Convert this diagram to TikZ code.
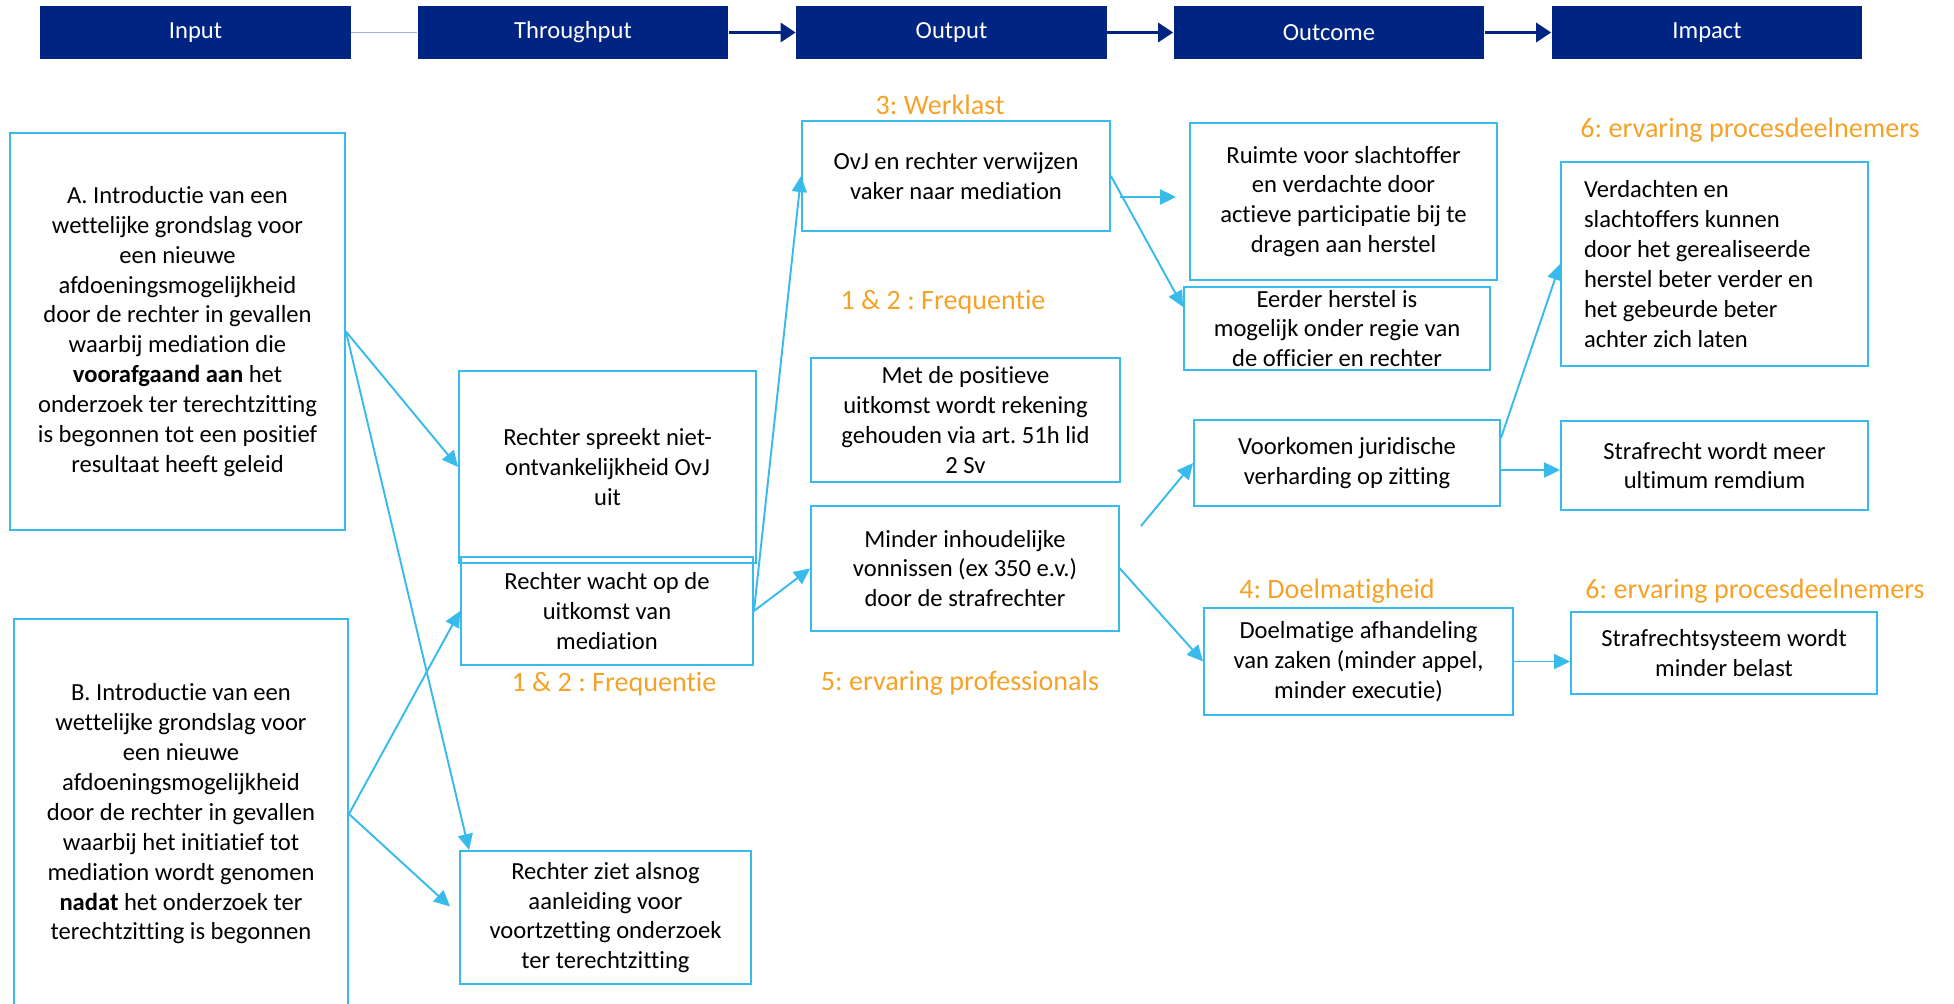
\documentclass[tikz,border=0pt]{standalone}
\usepackage{fontspec}
\setmainfont{Carlito}[Ligatures=NoCommon]
\usetikzlibrary{arrows.meta,calc,positioning}
\definecolor{navy}{RGB}{0,36,130}
\definecolor{skyline}{RGB}{56,187,235}
\definecolor{ambertxt}{RGB}{245,162,40}
\definecolor{paleline}{RGB}{160,180,222}
\frenchspacing

\begin{document}
\begin{tikzpicture}[x=0.02cm, y=-0.02cm,
	every node/.style={font=\fontsize{14}{17}\selectfont},
	head/.style={fill=navy, text=white, minimum width=6.22cm, minimum height=1.06cm, inner sep=0pt},
	box/.style={draw=skyline, line width=1.1pt, align=center, inner sep=0pt},
	lbl/.style={text=ambertxt, font=\fontsize{16}{19}\selectfont},
	link/.style={draw=skyline, line width=1.1pt, -{Triangle[length=0.32cm,width=0.3cm]}},
	flow/.style={draw=navy, line width=1.6pt, -{Triangle[length=0.3cm,width=0.38cm]}}]
		\useasboundingbox (0,0) rectangle (1954,1004);
		% header
		\node[head] (input) at (195.5,32.5) {Input};
		\node[head] (through) at (573,32.5) {Throughput};
		\node[head] (output) at (951.5,32.5) {Output};
		\node[head] (outcome) at (1329,32.5) {Outcome};
		\node[head] (impact) at (1707,32.5) {Impact};
		\draw[paleline, line width=1pt] (input.east) -- (through.west);
		\draw[flow] (through.east) -- (output.west);
		\draw[flow] (output.east) -- (outcome.west);
		\draw[flow] (outcome.east) -- (impact.west);
		% input
		\node[box, minimum width=6.7cm, minimum height=7.94cm] (optA) at (177.5,331.5) {A. Introductie van een\\wettelijke grondslag voor\\een nieuwe\\afdoeningsmogelijkheid\\door de rechter in gevallen\\waarbij mediation die\\\textbf{voorafgaand aan} het\\onderzoek ter terechtzitting\\is begonnen tot een positief\\resultaat heeft geleid};
		\node[box, minimum width=6.68cm, minimum height=7.8cm] (optB) at (181,814) {B. Introductie van een\\wettelijke grondslag voor\\een nieuwe\\afdoeningsmogelijkheid\\door de rechter in gevallen\\waarbij het initiatief tot\\mediation wordt genomen\\\textbf{nadat} het onderzoek ter\\terechtzitting is begonnen};
		% throughput
		\node[box, minimum width=5.94cm, minimum height=3.84cm] (spreekt) at (607.5,467) {Rechter spreekt niet-\\ontvankelijkheid OvJ\\uit};
		\node[box, minimum width=5.84cm, minimum height=2.16cm] (wacht) at (607,611) {Rechter wacht op de\\uitkomst van\\mediation};
		\node[box, minimum width=5.82cm, minimum height=2.66cm] (ziet) at (605.5,917.5) {Rechter ziet alsnog\\aanleiding voor\\voortzetting onderzoek\\ter terechtzitting};
		% output
		\node[box, minimum width=6.16cm, minimum height=2.2cm] (ovj) at (956,176) {OvJ en rechter verwijzen\\vaker naar mediation};
		\node[box, minimum width=6.18cm, minimum height=2.48cm] (positief) at (965.5,420) {Met de positieve\\uitkomst wordt rekening\\gehouden via art. 51h lid\\2 Sv};
		\node[box, minimum width=6.16cm, minimum height=2.5cm] (minder) at (965,568.5) {Minder inhoudelijke\\vonnissen (ex 350 e.v.)\\door de strafrechter};
		% outcome
		\node[box, minimum width=6.14cm, minimum height=3.14cm] (ruimte) at (1343.5,201.5) {Ruimte voor slachtoffer\\en verdachte door\\actieve participatie bij te\\dragen aan herstel};
		\node[box, minimum width=6.12cm, minimum height=1.66cm] (eerder) at (1337,328.5) {Eerder herstel is\\mogelijk onder regie van\\de officier en rechter};
		\node[box, minimum width=6.12cm, minimum height=1.72cm] (voorkomen) at (1347,463) {Voorkomen juridische\\verharding op zitting};
		\node[box, minimum width=6.18cm, minimum height=2.14cm] (doel) at (1358.5,661.5) {Doelmatige afhandeling\\van zaken (minder appel,\\minder executie)};
		% impact
		\node[box, align=flush left, inner xsep=0.46cm, text width=5.22cm, minimum height=4.08cm] (verdachten) at (1714.5,264) {Verdachten en\\slachtoffers kunnen\\door het gerealiseerde\\herstel beter verder en\\het gebeurde beter\\achter zich laten};
		\node[box, minimum width=6.14cm, minimum height=1.78cm] (ultimum) at (1714.5,465.5) {Strafrecht wordt meer\\ultimum remdium};
		\node[box, minimum width=6.12cm, minimum height=1.64cm] (belast) at (1724,653) {Strafrechtsysteem wordt\\minder belast};
		% indicators
		\node[lbl] (werklast) at (940,105) {3: Werklast};
		\node[lbl] (freqtop) at (943,302) {1 \& 2 : Frequentie};
		\node[lbl] (freqlow) at (614,684) {1 \& 2 : Frequentie};
		\node[lbl] (profs) at (960,683) {5: ervaring professionals};
		\node[lbl] (doelm) at (1337,591) {4: Doelmatigheid};
		\node[lbl] (deeltop) at (1750,130) {6: ervaring procesdeelnemers};
		\node[lbl] (deellow) at (1755,591) {6: ervaring procesdeelnemers};
		% connectors
		\draw[link] (optA.east) -- (spreekt.west);
		\draw[link] (optA.east) -- ($(ziet.north west)+(10,0)$);
		\draw[link] (optB.east) -- (wacht.west);
		\draw[link] (optB.east) -- ($(ziet.west)+(-9,-11)$);
		\draw[link] (wacht.east) -- (ovj.west);
		\draw[link] (wacht.east) -- (minder.west);
		\coordinate (minderout) at ($(minder.north east)+(21,21)$);
		\draw[link] (minderout) -- (voorkomen.west);
		\draw[link] (minder.east) -- (doel.west);
		\draw[link] (ovj.east) -- ($(eerder.north west)+(0,21)$);
		\coordinate (ovjout) at ($(ovj.east)+(9,21)$);
		\draw[link] (ovjout) -- ($(ovjout -| ruimte.west)+(-13,0)$);
		\draw[link] ($(voorkomen.north east)+(0,19)$) -- (verdachten.west);
		\draw[link] ($(voorkomen.east)+(0,7)$) -- ($(voorkomen.east -| ultimum.west)+(0,7)$);
		\draw[link] (doel.east) -- (doel.east -| belast.west);
\end{tikzpicture}
\end{document}
